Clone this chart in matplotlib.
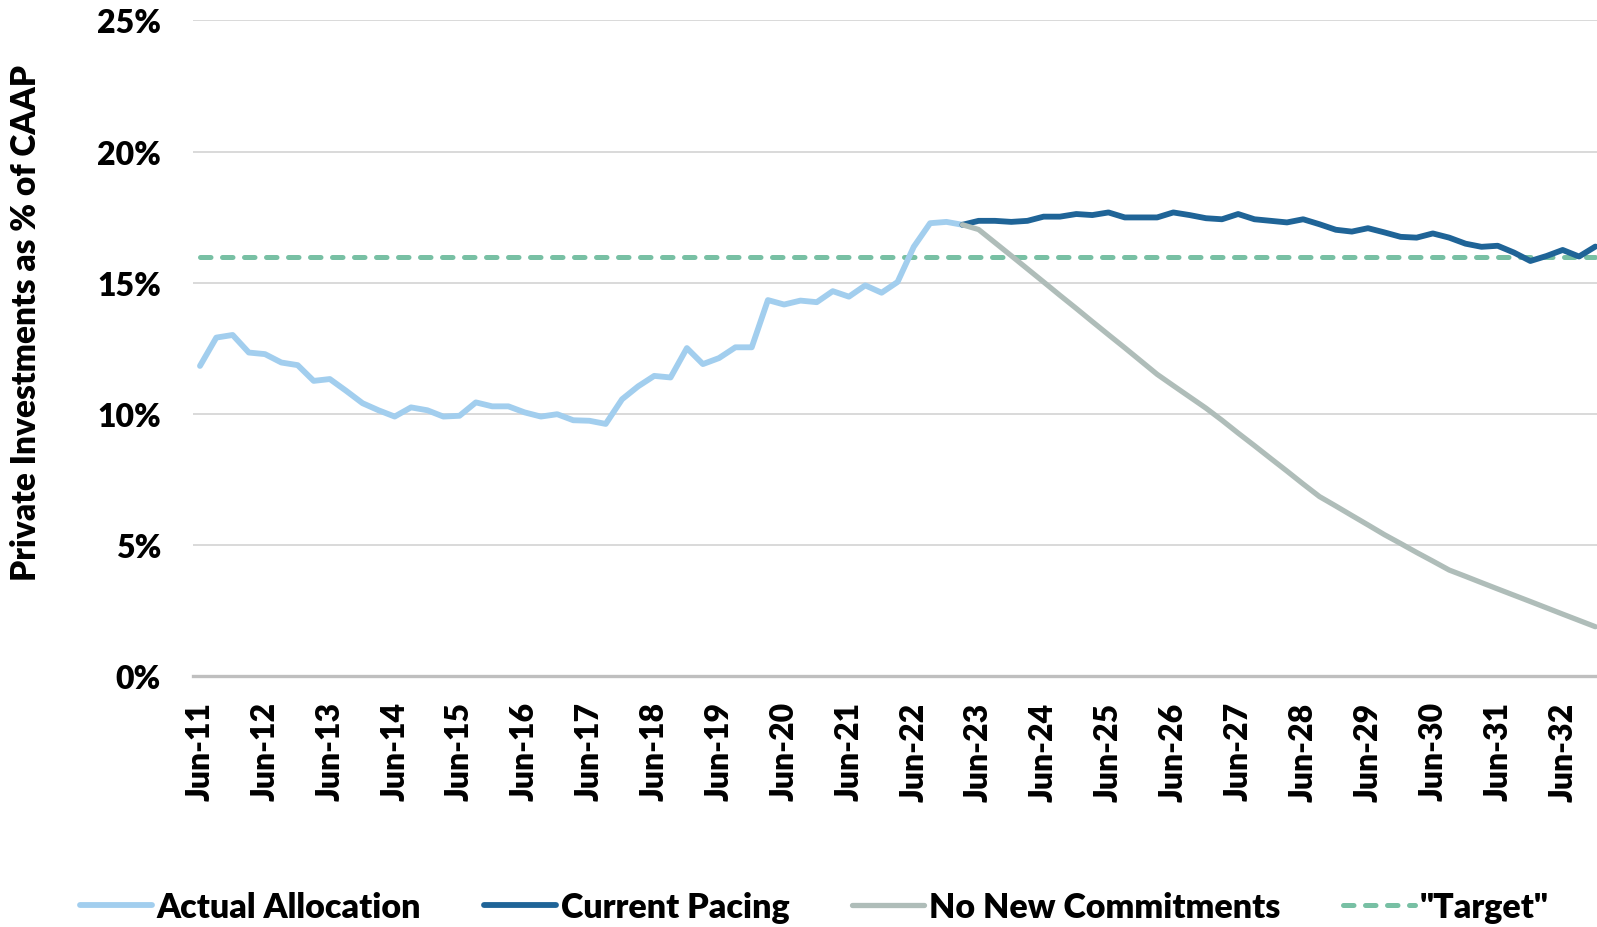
import matplotlib
matplotlib.use("Agg")
import matplotlib.pyplot as plt
import matplotlib.dates as mdates
from matplotlib.ticker import FixedLocator, FuncFormatter
import pandas as pd
import numpy as np

# ---- data ----
quarters = pd.date_range("2011-06-30", "2032-12-31", freq="QE-DEC")

actual_allocation = [
    11.83, 12.91, 13.01, 12.34, 12.28, 11.96, 11.86, 11.26, 11.33, 10.88,
    10.41, 10.14, 9.90, 10.25, 10.14, 9.90, 9.93, 10.44, 10.29, 10.29,
    10.06, 9.90, 9.99, 9.76, 9.74, 9.62, 10.56, 11.05, 11.45, 11.39,
    12.51, 11.90, 12.13, 12.54, 12.54, 14.34, 14.17, 14.32, 14.26, 14.68,
    14.47, 14.90, 14.62, 15.03, 16.37, 17.27, 17.32, 17.21,
]

current_pacing = [
    17.21, 17.36, 17.36, 17.32, 17.36, 17.52, 17.52, 17.62, 17.58, 17.68,
    17.49, 17.49, 17.49, 17.68, 17.58, 17.46, 17.42, 17.62, 17.42, 17.36,
    17.30, 17.42, 17.23, 17.02, 16.95, 17.08, 16.92, 16.75, 16.72, 16.88,
    16.72, 16.49, 16.37, 16.41, 16.15, 15.83, 16.02, 16.25, 16.00, 16.38,
]

no_new_commitments = [
    17.21, 17.03, 16.53, 16.03, 15.53, 15.03, 14.52, 14.02, 13.52, 13.02,
    12.52, 12.01, 11.51, 11.08, 10.65, 10.22, 9.76, 9.27, 8.79, 8.30,
    7.82, 7.33, 6.85, 6.49, 6.13, 5.77, 5.40, 5.06, 4.72, 4.39,
    4.05, 3.81, 3.57, 3.33, 3.09, 2.85, 2.61, 2.37, 2.13, 1.89,
]

target_value = 16.0

series_labels = ["Actual Allocation", "Current Pacing", "No New Commitments", '"Target"']
y_ticks = [0, 5, 10, 15, 20, 25]
y_label = "Private Investments as % of CAAP"

# ---- styling ----
FONT = ["Lato", "DejaVu Sans"]
WEIGHT = 800
plt.rcParams["font.family"] = FONT
plt.rcParams["font.weight"] = WEIGHT

c_actual = "#A2CEEE"
c_pacing = "#1F6497"
c_nonew = "#AFBDB9"
c_target = "#78C0A4"

W, H = 1597, 928
fig = plt.figure(figsize=(W / 100, H / 100), dpi=100)
left, right = 193 / W, 1.0
bottom, top = 1 - 677.3 / H, 1 - 21.4 / H
ax = fig.add_axes([left, bottom, right - left, top - bottom])

n_act = len(actual_allocation)
x_act = quarters[:n_act]
x_proj = quarters[n_act - 1:]

lw = 4.2
ax.plot(x_act, actual_allocation, color=c_actual, lw=lw, solid_joinstyle="round",
        solid_capstyle="round", label=series_labels[0], zorder=3)
ax.plot(x_proj, current_pacing, color=c_pacing, lw=lw, solid_joinstyle="round",
        solid_capstyle="round", label=series_labels[1], zorder=4)
ax.plot(x_proj, no_new_commitments, color=c_nonew, lw=3.8, solid_joinstyle="round",
        solid_capstyle="round", label=series_labels[2], zorder=5)
ax.plot(quarters, [target_value] * len(quarters), color=c_target, lw=3.6,
        dashes=(2.1, 2.3), dash_capstyle="round", label=series_labels[3], zorder=2)

# axes limits
ax.set_xlim(mdates.date2num(quarters[0]) - 0.43 * 91.3,
            mdates.date2num(quarters[-1]) + 0.1 * 91.3)
ax.set_ylim(0, 25)

# y axis
ax.yaxis.set_major_locator(FixedLocator(y_ticks))
ax.yaxis.set_major_formatter(FuncFormatter(lambda v, p: f"{v:.0f}%"))
ax.grid(axis="y", color="#D0D0D0", lw=1.1, zorder=0)
ax.set_axisbelow(True)

# x axis ticks at June each year
jun_ticks = [d for d in quarters if d.month == 6]
ax.set_xticks(jun_ticks)
ax.set_xticklabels([d.strftime("%b-%y") for d in jun_ticks], rotation=90)

for s in ["left", "right", "top"]:
    ax.spines[s].set_visible(False)
ax.spines["bottom"].set_color("#BFBFBF")
ax.spines["bottom"].set_linewidth(2.4)
ax.spines["bottom"].set_zorder(1)

ax.tick_params(axis="both", length=0, labelsize=23)
ax.tick_params(axis="y", pad=23)
ax.tick_params(axis="x", pad=18)
for t in ax.get_xticklabels() + ax.get_yticklabels():
    t.set_fontweight(WEIGHT)

fig.text(26 / W, 1 - 323 / H, y_label, rotation=90, ha="center", va="center",
         fontsize=24, fontweight=WEIGHT)

handles, labels = ax.get_legend_handles_labels()
leg = fig.legend(handles, labels, loc="center", bbox_to_anchor=(0.51, 1 - 908 / H),
                 ncol=4, frameon=False, fontsize=24.5, handlelength=2.1,
                 handletextpad=0.15, columnspacing=1.85, borderpad=0)
for t in leg.get_texts():
    t.set_fontweight(WEIGHT)

fig.savefig("out.png", dpi=100)
